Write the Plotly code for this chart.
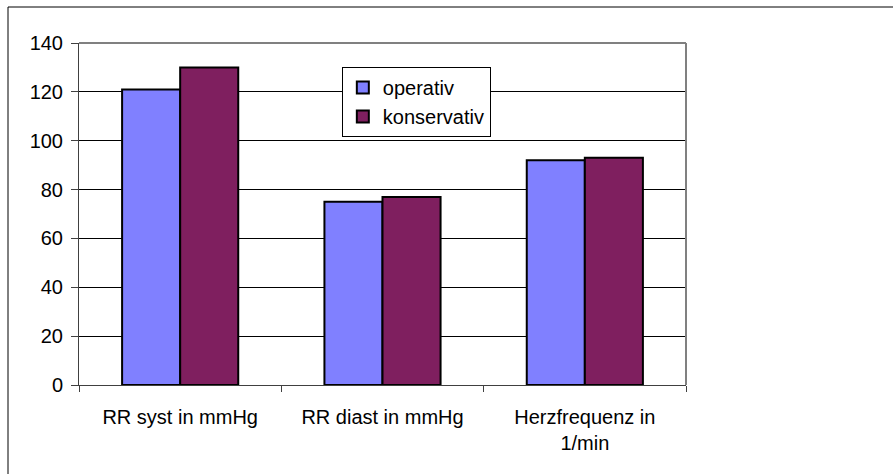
import plotly.graph_objects as go

categories = ["RR syst in mmHg", "RR diast in mmHg", "Herzfrequenz in<br>1/min"]
operativ = [121, 75, 92]
konservativ = [130, 77, 93]
y_ticks = [0, 20, 40, 60, 80, 100, 120, 140]

FONT = dict(family="Liberation Sans, Arial, sans-serif", size=20, color="black")

fig = go.Figure()
fig.add_trace(go.Bar(name="operativ", x=categories, y=operativ,
                     marker=dict(color="#8080FF", line=dict(color="black", width=2)),
                     legendgroup="a"))
fig.add_trace(go.Bar(name="konservativ", x=categories, y=konservativ,
                     marker=dict(color="#7F1F5F", line=dict(color="black", width=2)),
                     legendgroup="b"))

W, H = 893, 474
L, R, T, B = 79, 207, 43, 89
pw, ph = W - L - R, H - T - B

def px2paper(x, y):
    return (x - L) / pw, (H - B - y) / ph

x0, y1 = px2paper(8, 7)

fig.update_layout(
    width=W, height=H,
    margin=dict(l=L, r=R, t=T, b=B),
    paper_bgcolor="white", plot_bgcolor="white",
    font=FONT,
    barmode="group", bargap=0.426, bargroupgap=0,
    showlegend=True,
    legend=dict(x=0.433, y=0.93, xanchor="left", yanchor="top",
                bgcolor="white", bordercolor="black", borderwidth=1,
                font=FONT, traceorder="grouped", tracegroupgap=0),
    xaxis=dict(type="category", showgrid=False, showline=True, linecolor="#404040", linewidth=1,
               ticks="outside", tickson="boundaries", ticklen=6, tickcolor="#404040",
               tickfont=FONT, ticklabelstandoff=14),
    yaxis=dict(range=[0, 140], tickvals=y_ticks, showgrid=True, gridcolor="black", gridwidth=1,
               showline=True, linecolor="#404040", linewidth=1, zeroline=False,
               ticks="outside", ticklen=7, tickcolor="#404040", tickfont=FONT,
               ticklabelstandoff=4),
    shapes=[
        dict(type="line", xref="paper", yref="paper", x0=0, x1=1, y0=1, y1=1,
             line=dict(color="#808080", width=2), layer="above"),
        dict(type="line", xref="paper", yref="paper", x0=1, x1=1, y0=0, y1=1,
             line=dict(color="#808080", width=2), layer="above"),
        dict(type="rect", xref="paper", yref="paper", x0=x0, x1=3, y0=-2, y1=y1,
             line=dict(color="black", width=1), layer="below"),
    ],
)

fig.write_html("out.html")
